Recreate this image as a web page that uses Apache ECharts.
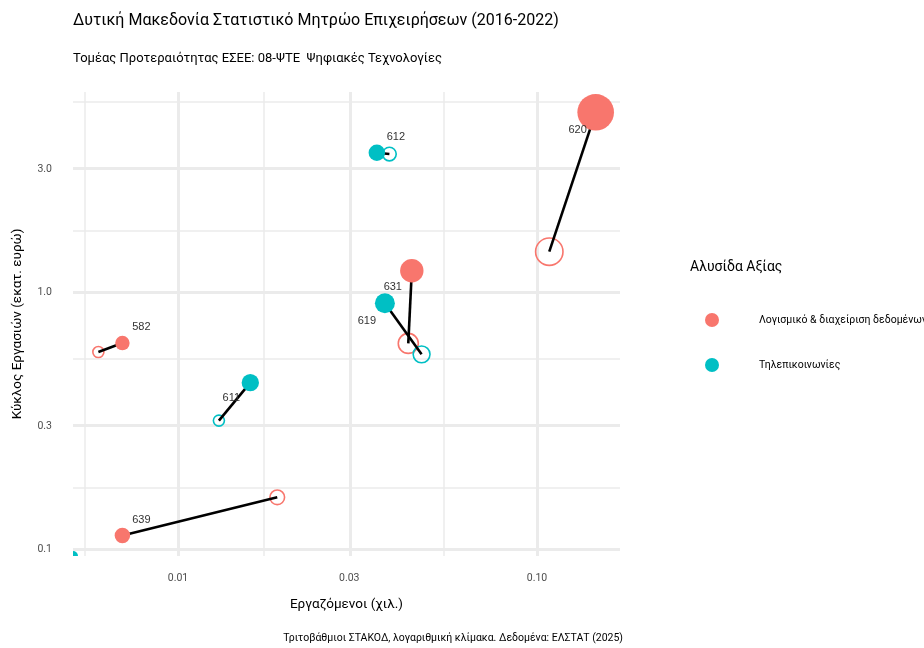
<!DOCTYPE html>
<html>
<head>
<meta charset="utf-8">
<script src="https://cdn.jsdelivr.net/npm/echarts@6/dist/echarts.min.js"></script>
<style>html,body{margin:0;padding:0;background:#fff}#c{width:924px;height:648px}</style>
</head>
<body>
<div id="c"></div>
<script>
// ---- data ----
const chainSW = 'Λογισμικό & διαχείριση δεδομένων';
const chainTel = 'Τηλεπικοινωνίες';
const codes     = ['582', '611', '612', '619', '620', '631', '639', ''];
const chains    = [chainSW, chainTel, chainTel, chainTel, chainSW, chainSW, chainSW, chainTel];
const emp2016   = [0.0060, 0.0130, 0.0388, 0.0477, 0.1082, 0.0438, 0.0189, null];
const emp2022   = [0.0070, 0.0159, 0.0358, 0.0377, 0.1457, 0.0448, 0.0070, 0];
const turn2016  = [0.584, 0.316, 3.44, 0.572, 1.435, 0.631, 0.159, null];
const turn2022  = [0.633, 0.444, 3.48, 0.904, 5.00, 1.21, 0.113, 0];
const size2016  = [40, 40, 58, 85, 210, 117, 66, null];
const size2022  = [52, 75, 68, 100, 335, 137, 60, 25];
const xTicks = [0.01, 0.03, 0.10];
const yTicks = [0.1, 0.3, 1.0, 3.0];

// ---- layout / style ----
const labelOffset = {'582':[19,-16],'611':[-19,15],'612':[19,-16],'619':[-18,18],'620':[-18,18],'631':[-19,16],'639':[19,-15]};
const colors = {}; colors[chainSW] = '#F8766D'; colors[chainTel] = '#00BFC4';
const FONT = '"Roboto",sans-serif';
const xMin = -2.2925, xMax = -0.7688, yMin = -1.027, yMax = 0.778;
const lx = v => v > 0 ? Math.log10(v) : xMin;
const ly = v => v > 0 ? Math.log10(v) : yMin;

function pts(chain, year, zeroOnly) {
  const out = [];
  for (let i = 0; i < codes.length; i++) {
    if (chains[i] !== chain) continue;
    const e = year === 2016 ? emp2016[i] : emp2022[i];
    const t = year === 2016 ? turn2016[i] : turn2022[i];
    const s = year === 2016 ? size2016[i] : size2022[i];
    if (e === null) continue;
    const isZero = !(e > 0) || !(t > 0);
    if (isZero !== !!zeroOnly) continue;
    const item = {value: [lx(e), ly(t), s], name: codes[i]};
    if (year === 2022 && codes[i]) {
      item.label = {show: true, position: 'inside', offset: labelOffset[codes[i]], formatter: codes[i]};
    }
    out.push(item);
  }
  return out;
}
const segs = [];
for (let i = 0; i < codes.length; i++) {
  if (emp2016[i] === null) continue;
  segs.push({coords: [[lx(emp2016[i]), ly(turn2016[i])], [lx(emp2022[i]), ly(turn2022[i])]]});
}
// gridlines: majors at ticks, minors at log-midpoints
const xMaj = xTicks.map(Math.log10);
const yMaj = yTicks.map(Math.log10);
const xMinor = [];
const xAll = [Math.log10(0.003)].concat(xMaj);
for (let i = 0; i < xAll.length - 1; i++) xMinor.push((xAll[i] + xAll[i+1]) / 2);
const yAll = yMaj.concat([Math.log10(10)]);
const yMinor = [];
for (let i = 0; i < yAll.length - 1; i++) yMinor.push((yAll[i] + yAll[i+1]) / 2);
const gridML = [];
xMinor.forEach(v => gridML.push({xAxis: v, lineStyle: {color: '#EBEBEB', width: 1.5, type: 'solid'}}));
yMinor.forEach(v => gridML.push({yAxis: v, lineStyle: {color: '#EBEBEB', width: 1.5, type: 'solid'}}));
xMaj.forEach(v => gridML.push({xAxis: v, lineStyle: {color: '#EBEBEB', width: 3, type: 'solid'}}));
yMaj.forEach(v => gridML.push({yAxis: v, lineStyle: {color: '#EBEBEB', width: 3, type: 'solid'}}));

const filledSize = v => 2 * Math.sqrt(v[2]);
const hollowSize = v => 2 * Math.sqrt(v[2]) - 1.6;

const chart = echarts.init(document.getElementById('c'), null, {renderer: 'canvas'});
chart.setOption({
  animation: false,
  title: [
    {text: 'Δυτική Μακεδονία Στατιστικό Μητρώο Επιχειρήσεων (2016-2022)', left: 73, top: 13, padding: 0,
     textStyle: {fontFamily: FONT, fontSize: 16, fontWeight: 'normal', color: '#000'}},
    {text: 'Τομέας Προτεραιότητας ΕΣΕΕ: 08-ΨΤΕ  Ψηφιακές Τεχνολογίες', left: 73, top: 52, padding: 0,
     textStyle: {fontFamily: FONT, fontSize: 13, fontWeight: 'normal', color: '#000'}},
    {text: 'Τριτοβάθμιοι ΣΤΑΚΟΔ, λογαριθμική κλίμακα. Δεδομένα: ΕΛΣΤΑΤ (2025)', right: 301, top: 633, padding: 0,
     textStyle: {fontFamily: FONT, fontSize: 10.5, fontWeight: 'normal', color: '#000'}},
    {text: 'Αλυσίδα Αξίας', left: 690, top: 260, padding: 0,
     textStyle: {fontFamily: FONT, fontSize: 14, fontWeight: 'normal', color: '#000'}}
  ],
  legend: {
    data: [chainSW, chainTel], orient: 'vertical', left: 705, top: 313, padding: 0,
    icon: 'circle', itemWidth: 14, itemHeight: 14, itemGap: 31,
    textStyle: {fontFamily: FONT, fontSize: 10.5, color: '#000', padding: [0, 0, 0, 35]}
  },
  grid: {left: 73, right: 304, top: 92, bottom: 92, containLabel: false},
  xAxis: {
    type: 'value', min: xMin, max: xMax,
    name: 'Εργαζόμενοι (χιλ.)', nameLocation: 'middle', nameGap: 42,
    nameTextStyle: {fontFamily: FONT, fontSize: 13.5, color: '#000'},
    axisLine: {show: false}, axisTick: {show: false}, splitLine: {show: false},
    axisLabel: {customValues: xMaj, margin: 17, fontFamily: FONT, fontSize: 10.5, color: '#4D4D4D',
      formatter: v => Math.pow(10, v).toFixed(2)}
  },
  yAxis: {
    type: 'value', min: yMin, max: yMax,
    name: 'Κύκλος Εργασιών (εκατ. ευρώ)', nameLocation: 'middle', nameGap: 48,
    nameTextStyle: {fontFamily: FONT, fontSize: 13.5, color: '#000'},
    axisLine: {show: false}, axisTick: {show: false}, splitLine: {show: false},
    axisLabel: {customValues: yMaj, margin: 21, fontFamily: FONT, fontSize: 10.5, color: '#4D4D4D',
      formatter: v => Math.pow(10, v).toFixed(1)}
  },
  series: [
    {type: 'scatter', data: [], silent: true, z: 0,
     markLine: {silent: true, z: 0, symbol: 'none', label: {show: false}, animation: false, data: gridML}},
    {name: chainSW + ' 2016', type: 'scatter', z: 2, data: pts(chainSW, 2016), symbolSize: hollowSize,
     itemStyle: {color: 'rgba(0,0,0,0)', borderColor: colors[chainSW], borderWidth: 1.6, opacity: 1}},
    {name: chainTel + ' 2016', type: 'scatter', z: 2, data: pts(chainTel, 2016), symbolSize: hollowSize,
     itemStyle: {color: 'rgba(0,0,0,0)', borderColor: colors[chainTel], borderWidth: 1.6, opacity: 1}},
    {type: 'lines', coordinateSystem: 'cartesian2d', z: 3, data: segs, silent: true,
     lineStyle: {color: '#000', width: 2.6, opacity: 1}},
    {name: chainSW, type: 'scatter', z: 4, data: pts(chainSW, 2022), symbolSize: filledSize,
     itemStyle: {color: colors[chainSW], opacity: 1},
     label: {fontFamily: '"Liberation Sans",sans-serif', fontSize: 11, color: '#333'}},
    {name: chainTel, type: 'scatter', z: 4, data: pts(chainTel, 2022), symbolSize: filledSize,
     itemStyle: {color: colors[chainTel], opacity: 1},
     label: {fontFamily: '"Liberation Sans",sans-serif', fontSize: 11, color: '#333'}},
    // points at log(0) drawn at the panel edge and clipped by the panel, as in the reference
    {name: chainTel + ' 0', type: 'custom', z: 4, clip: true, silent: true, data: pts(chainTel, 2022, true),
     renderItem: function (params, api) {
       const c = api.coord([api.value(0), api.value(1)]);
       return {type: 'circle', shape: {cx: c[0], cy: c[1], r: Math.sqrt(api.value(2))},
               style: {fill: colors[chainTel]}};
     }}
  ]
});
</script>
</body>
</html>
